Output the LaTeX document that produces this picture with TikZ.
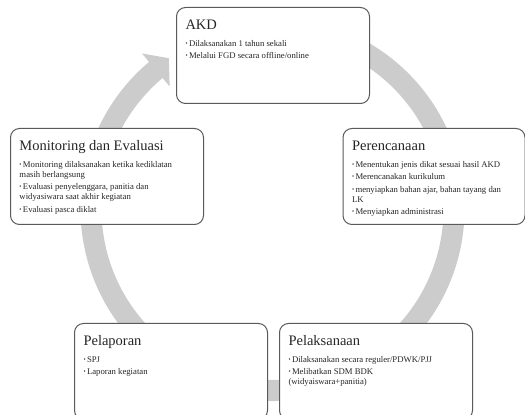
\documentclass[tikz,border=0pt]{standalone}
\usepackage{fontspec}
\setmainfont{Liberation Serif}
\usetikzlibrary{positioning}
\definecolor{ringgray}{RGB}{204,204,204}
\definecolor{edgegray}{RGB}{90,90,90}
\newcommand{\stagetext}[3]{\parbox[t][82pt][t]{#1}{\raggedright\fontsize{14.5}{17}\selectfont\rule{0pt}{15pt}#2\par\vspace{7pt}\fontsize{8.7}{10}\selectfont #3}}
\newcommand{\itm}[1]{\par\hangindent=3.5pt\hangafter=1\noindent\makebox[3.5pt][l]{\raisebox{1.3pt}{\fontsize{6}{6}\selectfont\textbullet}}#1\par\vspace{2.5pt}}
\begin{document}
\begin{tikzpicture}[x=1pt, y=1pt, line join=round,
  stage/.style={draw=edgegray, line width=1pt, rounded corners=9pt, fill=white,
    anchor=north west, inner xsep=9pt, inner ysep=7pt, text=black!85},
  ring/.style={fill=ringgray}]
\def\cx{272.5} \def\cy{206}
\def\ro{192} \def\ri{171}
\useasboundingbox (0,0) rectangle (525,415);
% circular arrow behind the stages
\begin{scope}[shift={(\cx,\cy)}]
\fill[ring] (100:\ro) arc[start angle=100, end angle=-230, radius=\ro]
  -- (130:203) -- (124.5:183) -- (130:160) -- (130:\ri)
  arc[start angle=-230, end angle=100, radius=\ri] -- cycle;
\end{scope}
% stages
\node[stage] (akd) at (176,408) {\stagetext{175pt}{AKD}{%
  \itm{Dilaksanakan 1 tahun sekali}
  \itm{Melalui FGD secara offline/online}}};
\node[stage] (renc) at (342.5,287) {\stagetext{164pt}{Perencanaan}{%
  \itm{Menentukan jenis dikat sesuai hasil AKD}
  \itm{Merencanakan kurikulum}
  \itm{menyiapkan bahan ajar, bahan tayang dan\\LK}
  \itm{Menyiapkan administrasi}}};
\node[stage] (laks) at (279,92) {\stagetext{175pt}{Pelaksanaan}{%
  \itm{Dilaksanakan secara reguler/PDWK/PJJ}
  \itm{Melibatkan SDM BDK\\(widyaiswara+panitia)}}};
\node[stage] (lapor) at (74,92) {\stagetext{175pt}{Pelaporan}{%
  \itm{SPJ}
  \itm{Laporan kegiatan}}};
\node[stage] (moni) at (10,287) {\stagetext{175pt}{Monitoring dan Evaluasi}{%
  \itm{Monitoring dilaksanakan ketika kediklatan\\masih berlangsung}
  \itm{Evaluasi penyelenggara, panitia dan\\widyasiwara saat akhir kegiatan}
  \itm{Evaluasi pasca diklat}}};
\end{tikzpicture}
\end{document}
